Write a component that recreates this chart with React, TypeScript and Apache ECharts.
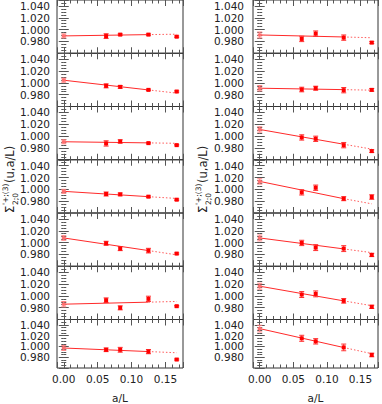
import React, { useEffect, useRef } from "react";
import * as echarts from "echarts";

// lattice spacings a/L of the simulated points
const aL = [0.0625, 0.0833, 0.125, 0.1667];
const xTickLabels = ["0.00", "0.05", "0.10", "0.15"];
const yTickLabels = ["0.980", "1.000", "1.020", "1.040"];

// left column, panels top to bottom
const leftPoints = [
  [0.989, 0.9915, 0.9915, 0.988],
  [0.9949, 0.9932, 0.9881, 0.9853],
  [0.9876, 0.9909, 0.9881, 0.9847],
  [0.9921, 0.9915, 0.9876, 0.9825],
  [0.9988, 0.9898, 0.9864, 0.9814],
  [0.9926, 0.9797, 0.9949, 0.9825],
  [0.9938, 0.9938, 0.9904, 0.9757],
];
const leftErrors = [
  [0.004, 0.0012, 0.0012, 0.0012],
  [0.0034, 0.0023, 0.0012, 0.0012],
  [0.0045, 0.0028, 0.0012, 0.0012],
  [0.0034, 0.0023, 0.0012, 0.0012],
  [0.0034, 0.0034, 0.0039, 0.0012],
  [0.0039, 0.0034, 0.0045, 0.0012],
  [0.0034, 0.0045, 0.0039, 0.0012],
];
const leftExtrap = [0.9893, 1.0044, 0.9904, 0.9966, 1.0078, 0.9859, 0.9971];
const leftExtrapErr = [0.0034, 0.0034, 0.0034, 0.0034, 0.0039, 0.0045, 0.0045];
const leftLineMid = [0.9915, 0.988, 0.9885, 0.9876, 0.9865, 0.9893, 0.9905];
const leftLineEnd = [0.9922, 0.9826, 0.9878, 0.9846, 0.9793, 0.9905, 0.9883];

// right column, panels top to bottom
const rightPoints = [
  [0.9842, 0.9932, 0.9864, 0.978],
  [0.9887, 0.9909, 0.9876, 0.9881],
  [0.9977, 0.9954, 0.9847, 0.9746],
  [0.9949, 1.0027, 0.9842, 0.987],
  [0.9994, 0.9915, 0.9898, 0.9791],
  [1.0022, 1.0033, 0.9915, 0.9814],
  [1.0151, 1.0095, 0.9982, 0.9842],
];
const rightErrors = [
  [0.0045, 0.0045, 0.0045, 0.0017],
  [0.0039, 0.0034, 0.0045, 0.0023],
  [0.0045, 0.0045, 0.0045, 0.0023],
  [0.0045, 0.0045, 0.0034, 0.0039],
  [0.0045, 0.005, 0.005, 0.0028],
  [0.005, 0.005, 0.0039, 0.0028],
  [0.0056, 0.005, 0.0062, 0.0034],
];
const rightExtrap = [0.9909, 0.9909, 1.0112, 1.0134, 1.0078, 1.0163, 1.0331];
const rightExtrapErr = [0.005, 0.0045, 0.0045, 0.0045, 0.005, 0.005, 0.0062];
const rightLineMid = [0.9875, 0.9885, 0.9862, 0.9842, 0.9893, 0.9915, 0.998];
const rightLineEnd = [0.9862, 0.9876, 0.978, 0.9755, 0.983, 0.9833, 0.9866];

const FONT = "DejaVu Sans";
const TEXT = "#222";
const TICK = "#555";

function buildOption() {
  const grid: any[] = [];
  const xAxis: any[] = [];
  const yAxis: any[] = [];
  const series: any[] = [];
  const panelH = 53.25;
  const columns = [
    { left: 57, width: 126, pts: leftPoints, errs: leftErrors, ex: leftExtrap, exErr: leftExtrapErr, mid: leftLineMid, end: leftLineEnd, labelMargin: 7 },
    { left: 253, width: 125, pts: rightPoints, errs: rightErrors, ex: rightExtrap, exErr: rightExtrapErr, mid: rightLineMid, end: rightLineEnd, labelMargin: 9 },
  ];
  const xLabelFmt = (v: number) => {
    const s = v.toFixed(2);
    return xTickLabels.indexOf(s) >= 0 ? s : "";
  };
  const yLabelFmt = (v: number) => {
    const s = v.toFixed(3);
    return yTickLabels.indexOf(s) >= 0 ? s : "";
  };
  columns.forEach((col, c) => {
    for (let p = 0; p < 7; p++) {
      const g = grid.length;
      grid.push({
        left: col.left,
        width: col.width,
        top: p * panelH,
        height: panelH,
        show: true,
        borderColor: "#333",
        borderWidth: 1,
        backgroundColor: "transparent",
      });
      const isBottom = p === 6;
      const xBase = {
        gridIndex: g,
        type: "value",
        min: -0.01,
        max: 0.176,
        axisLine: { show: false },
        splitLine: { show: false },
      };
      // major bottom
      xAxis.push({
        ...xBase,
        position: "bottom",
        splitNumber: 4,
        axisTick: { show: true, inside: true, length: 6, lineStyle: { color: TICK } },
        axisLabel: {
          show: isBottom,
          formatter: xLabelFmt,
          margin: 5,
          fontFamily: FONT,
          fontSize: 10.5,
          color: TEXT,
          showMinLabel: true,
          showMaxLabel: true,
        },
        name: isBottom ? "a/L" : "",
        nameLocation: "middle",
        nameGap: 24,
        nameTextStyle: { fontFamily: FONT, fontSize: 10.5, color: TEXT },
      });
      // minor bottom
      xAxis.push({
        ...xBase,
        position: "bottom",
        interval: 0.01,
        axisTick: { show: true, inside: true, length: 3.5, lineStyle: { color: TICK } },
        axisLabel: { show: false },
      });
      // major top
      xAxis.push({
        ...xBase,
        position: "top",
        splitNumber: 4,
        axisTick: { show: true, inside: true, length: 6, lineStyle: { color: TICK } },
        axisLabel: { show: false },
      });
      // minor top
      xAxis.push({
        ...xBase,
        position: "top",
        interval: 0.01,
        axisTick: { show: true, inside: true, length: 3.5, lineStyle: { color: TICK } },
        axisLabel: { show: false },
      });
      const yBase = {
        gridIndex: g,
        type: "value",
        min: 0.96,
        max: 1.05,
        axisLine: { show: false },
        splitLine: { show: false },
      };
      yAxis.push({
        ...yBase,
        position: "left",
        interval: 0.02,
        axisTick: { show: true, inside: true, length: 5, lineStyle: { color: TICK } },
        axisLabel: {
          show: true,
          formatter: yLabelFmt,
          margin: col.labelMargin,
          fontFamily: FONT,
          fontSize: 10.5,
          color: TEXT,
          showMinLabel: true,
          showMaxLabel: true,
        },
      });
      yAxis.push({
        ...yBase,
        position: "left",
        interval: 0.005,
        axisTick: { show: true, inside: true, length: 2.5, lineStyle: { color: TICK } },
        axisLabel: { show: false },
      });
      yAxis.push({
        ...yBase,
        position: "right",
        interval: 0.02,
        axisTick: { show: true, inside: true, length: 5, lineStyle: { color: TICK } },
        axisLabel: { show: false },
      });
      yAxis.push({
        ...yBase,
        position: "right",
        interval: 0.005,
        axisTick: { show: true, inside: true, length: 2.5, lineStyle: { color: TICK } },
        axisLabel: { show: false },
      });

      const xi = g * 4;
      const yi = g * 4;
      series.push({
        type: "line",
        xAxisIndex: xi,
        yAxisIndex: yi,
        data: [
          [0, col.ex[p]],
          [aL[2], col.mid[p]],
        ],
        symbol: "none",
        lineStyle: { color: "#ff2a2a", width: 1 },
        z: 2,
      });
      series.push({
        type: "line",
        xAxisIndex: xi,
        yAxisIndex: yi,
        data: [
          [aL[2], col.mid[p]],
          [aL[3], col.end[p]],
        ],
        symbol: "none",
        lineStyle: { color: "#ff5a5a", width: 1, type: [1.5, 2] },
        z: 2,
      });
      const ebData: any[] = [[0, col.ex[p], col.exErr[p], 1]];
      for (let i = 0; i < aL.length; i++) {
        ebData.push([aL[i], col.pts[p][i], col.errs[p][i], 0]);
      }
      series.push({
        type: "custom",
        xAxisIndex: xi,
        yAxisIndex: yi,
        encode: { x: 0, y: 1 },
        data: ebData,
        z: 3,
        renderItem: (params: any, api: any) => {
          const x = api.value(0);
          const y = api.value(1);
          const e = api.value(2);
          const k = api.value(3);
          const c0 = api.coord([x, y]);
          const t = api.coord([x, y + e]);
          const b = api.coord([x, y - e]);
          const col2 = k ? "#ff8080" : "#ff3030";
          const hw = 2.5;
          return {
            type: "group",
            children: [
              { type: "line", shape: { x1: c0[0], y1: t[1], x2: c0[0], y2: b[1] }, style: { stroke: col2, lineWidth: 1 } },
              { type: "line", shape: { x1: c0[0] - hw, y1: t[1], x2: c0[0] + hw, y2: t[1] }, style: { stroke: col2, lineWidth: 1 } },
              { type: "line", shape: { x1: c0[0] - hw, y1: b[1], x2: c0[0] + hw, y2: b[1] }, style: { stroke: col2, lineWidth: 1 } },
              k
                ? { type: "rect", shape: { x: c0[0] - 2, y: c0[1] - 1.5, width: 4, height: 3 }, style: { fill: "#ff7070" } }
                : { type: "rect", shape: { x: c0[0] - 2, y: c0[1] - 2, width: 4, height: 4 }, style: { fill: "#ff0000" } },
            ],
          };
        },
      });
    }
  });

  const yTitle = (x: number, y: number) => ({
    type: "group",
    x,
    y,
    rotation: Math.PI / 2,
    children: [
      { type: "text", x: 0, y: 0, style: { text: "Σ", font: `11.5px "${FONT}"`, fill: TEXT, align: "left", verticalAlign: "middle" } },
      { type: "text", x: 8, y: -5, style: { text: "'+;(3)", font: `7.5px "${FONT}"`, fill: TEXT, align: "left", verticalAlign: "middle" } },
      { type: "text", x: 8, y: 5, style: { text: "2;0", font: `7.5px "${FONT}"`, fill: TEXT, align: "left", verticalAlign: "middle" } },
      { type: "text", x: 30, y: 0, style: { text: "(u,a/L)", font: `11.5px "${FONT}"`, fill: TEXT, align: "left", verticalAlign: "middle" } },
    ],
  });

  return {
    animation: false,
    grid,
    xAxis,
    yAxis,
    series,
    graphic: [yTitle(10, 213), yTitle(203, 213)],
  };
}

export default function App() {
  const ref = useRef<HTMLDivElement>(null);
  useEffect(() => {
    if (!ref.current) return;
    const chart = echarts.init(ref.current, undefined, { renderer: "svg" });
    chart.setOption(buildOption() as any);
    return () => chart.dispose();
  }, []);
  return (
    <div
      ref={ref}
      style={{ position: "absolute", left: 0, top: 0, width: 382, height: 404, background: "#fff" }}
    />
  );
}
